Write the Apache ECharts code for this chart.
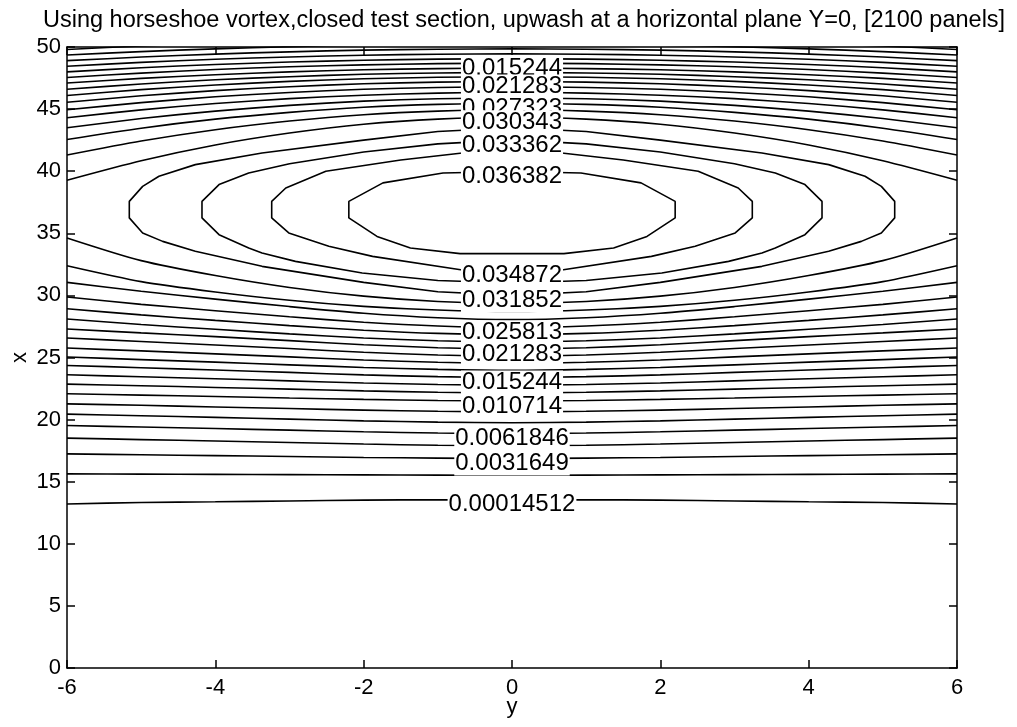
<!DOCTYPE html>
<html><head><meta charset="utf-8">
<script src="https://cdn.jsdelivr.net/npm/echarts@6/dist/echarts.min.js"></script>
<style>html,body{margin:0;padding:0;background:#fff}#c{width:1017px;height:727px}</style>
</head><body><div id="c"></div>
<script>
// spanwise stations |y| (lines are symmetric about y = 0)
const stations = [0, 1, 2, 3, 4, 5, 6];

// x-position of each contour below the peak, at |y| = 0..6  (levels k = 0..20)
const lowerLines = [
  [13.54, 13.54, 13.52, 13.45, 13.38, 13.32, 13.21],
  [15.52, 15.53, 15.55, 15.57, 15.59, 15.61, 15.63],
  [16.87, 16.90, 16.95, 17.03, 17.10, 17.17, 17.24],
  [17.90, 17.94, 18.03, 18.16, 18.28, 18.39, 18.51],
  [18.88, 18.92, 19.02, 19.15, 19.28, 19.40, 19.52],
  [19.75, 19.80, 19.90, 20.04, 20.18, 20.31, 20.44],
  [20.62, 20.67, 20.76, 20.89, 21.02, 21.15, 21.27],
  [21.50, 21.54, 21.63, 21.74, 21.86, 21.97, 22.08],
  [22.15, 22.20, 22.31, 22.45, 22.59, 22.73, 22.86],
  [22.77, 22.83, 22.95, 23.12, 23.29, 23.45, 23.61],
  [23.39, 23.46, 23.60, 23.80, 23.99, 24.18, 24.36],
  [23.96, 24.04, 24.20, 24.41, 24.63, 24.83, 25.04],
  [24.53, 24.62, 24.80, 25.05, 25.29, 25.53, 25.76],
  [25.10, 25.20, 25.42, 25.72, 26.01, 26.29, 26.57],
  [25.68, 25.79, 26.03, 26.36, 26.68, 26.98, 27.29],
  [26.26, 26.35, 26.57, 26.90, 27.27, 27.66, 28.10],
  [26.84, 26.94, 27.20, 27.57, 27.99, 28.43, 28.93],
  [27.42, 27.54, 27.84, 28.28, 28.77, 29.28, 29.87],
  [28.05, 28.20, 28.56, 29.10, 29.70, 30.33, 31.05],
  [28.70, 28.82, 29.12, 29.61, 30.28, 31.11, 32.39],
  [29.35, 29.51, 29.94, 30.64, 31.60, 32.80, 34.63]
];

// x-position of each contour above the peak, at |y| = 0..6  (levels k = 20 down to 5)
const upperLines = [
  [44.34, 44.19, 43.78, 43.07, 42.11, 40.84, 39.27],
  [44.95, 44.84, 44.55, 44.04, 43.34, 42.43, 41.30],
  [45.47, 45.38, 45.15, 44.74, 44.19, 43.46, 42.55],
  [45.90, 45.83, 45.64, 45.30, 44.84, 44.24, 43.50],
  [46.35, 46.29, 46.12, 45.84, 45.45, 44.94, 44.30],
  [46.80, 46.74, 46.60, 46.34, 45.99, 45.52, 44.95],
  [47.22, 47.17, 47.04, 46.80, 46.49, 46.07, 45.55],
  [47.60, 47.56, 47.44, 47.23, 46.94, 46.57, 46.10],
  [47.95, 47.91, 47.80, 47.61, 47.36, 47.02, 46.60],
  [48.30, 48.26, 48.17, 48.00, 47.77, 47.47, 47.10],
  [48.69, 48.66, 48.56, 48.41, 48.19, 47.90, 47.55],
  [49.05, 49.02, 48.93, 48.79, 48.59, 48.33, 48.00],
  [49.45, 49.42, 49.34, 49.20, 49.01, 48.76, 48.45],
  [49.85, 49.82, 49.75, 49.61, 49.43, 49.19, 48.90],
  [50.25, 50.22, 50.15, 50.03, 49.85, 49.63, 49.35],
  [50.70, 50.67, 50.60, 50.48, 50.30, 50.08, 49.80]
];

// closed contours around the peak (left halves, [y, x]); levels k = 24, 23, 22, 21
const ellipseTops = [
  [[0, 39.97], [-0.93, 39.86], [-1.74, 39.06], [-2.20, 37.57]],
  [[0, 41.55], [-0.67, 41.47], [-1.50, 40.90], [-2.51, 39.99], [-3.05, 38.65], [-3.24, 37.57]],
  [[0, 42.52], [-1.00, 42.20], [-2.00, 41.55], [-3.00, 40.60], [-3.55, 39.86], [-3.95, 38.92], [-4.18, 37.57]],
  [[0, 43.50], [-1.00, 43.20], [-2.00, 42.50], [-3.37, 41.47], [-4.27, 40.53], [-4.76, 39.59], [-4.98, 38.78], [-5.16, 37.57]]
];
const ellipseBottoms = [
  [[-2.20, 36.24], [-1.82, 34.75], [-1.37, 33.82], [-0.70, 33.36], [0, 33.36]],
  [[-3.24, 36.24], [-3.01, 35.03], [-2.47, 33.95], [-1.88, 33.14], [-0.67, 32.05], [0, 31.99]],
  [[-4.18, 36.24], [-3.95, 34.89], [-3.55, 33.82], [-3.37, 33.42], [-2.92, 32.74], [-2.02, 31.80], [-1.00, 31.20], [0, 31.00]],
  [[-5.16, 36.24], [-4.98, 35.03], [-4.71, 34.35], [-4.27, 33.55], [-3.37, 32.34], [-2.00, 31.05], [-1.00, 30.30], [0, 30.00]]
];

// inline contour labels
const labelText = ['0.015244', '0.021283', '0.027323', '0.030343', '0.033362', '0.036382',
  '0.034872', '0.031852', '0.025813', '0.021283', '0.015244', '0.010714', '0.0061846', '0.0031649', '0.00014512'];
const labelXpos = [48.69, 47.22, 45.47, 44.34, 42.52, 39.97,
  31.99, 30.00, 27.42, 25.68, 23.39, 21.50, 18.88, 16.87, 13.54];
const labelYpos = [0, 0, 0, 0, 0, 0, 0, 0, 0, 0, 0, 0, 0, 0, 0];

const titleText = 'Using horseshoe vortex,closed test section, upwash at a horizontal plane Y=0, [2100 panels]';
const FONT = '"Liberation Sans", Arial, sans-serif';

function mirrorLine(v) {
  const pts = [];
  for (let i = stations.length - 1; i >= 1; i--) pts.push([-stations[i], v[i]]);
  for (let i = 0; i < stations.length; i++) pts.push([stations[i], v[i]]);
  return pts;
}
function closedCurve(top, bottom) {
  const pts = [];
  top.forEach(p => pts.push(p));
  bottom.forEach(p => pts.push(p));
  for (let i = bottom.length - 2; i >= 0; i--) pts.push([-bottom[i][0], bottom[i][1]]);
  for (let i = top.length - 1; i >= 0; i--) pts.push([-top[i][0], top[i][1]]);
  return pts;
}

const lineStyle = { color: '#000', width: 1.6 };
const series = [];
lowerLines.concat(upperLines).forEach(v => series.push({
  type: 'line', data: mirrorLine(v), showSymbol: false, symbol: 'none', smooth: 0.25,
  lineStyle: lineStyle, clip: true, silent: true, animation: false
}));
ellipseTops.forEach((t, i) => series.push({
  type: 'line', data: closedCurve(t, ellipseBottoms[i]), showSymbol: false, symbol: 'none', smooth: false,
  lineStyle: lineStyle, clip: true, silent: true, animation: false
}));
series.push({
  type: 'scatter', z: 10, silent: true, animation: false,
  symbolSize: 0, itemStyle: { color: '#000', opacity: 1 },
  data: labelText.map((t, i) => [labelYpos[i], labelXpos[i], t]),
  labelLayout: { hideOverlap: false },
  label: {
    show: true, position: [0, 5], align: 'center', verticalAlign: 'middle',
    formatter: p => p.value[2],
    color: '#000', fontSize: 24, fontFamily: FONT,
    textBorderWidth: 0, textShadowBlur: 0,
    backgroundColor: '#fff', padding: [0, 1]
  }
});

const axisLineStyle = { color: '#000', width: 1.5 };
const tickCfg = { show: true, inside: true, length: 8, lineStyle: { color: '#000', width: 1.5 } };
const labelCfg = { color: '#000', fontSize: 22, fontFamily: FONT };

const chart = echarts.init(document.getElementById('c'), null, { renderer: 'canvas' });
chart.setOption({
  backgroundColor: '#fff',
  animation: false,
  title: {
    text: titleText, left: 38, top: 4,
    textStyle: { color: '#000', fontSize: 23.5, fontWeight: 'normal', fontFamily: FONT }
  },
  grid: { left: 67, right: 60, top: 47, bottom: 59, containLabel: false, outerBoundsMode: 'none' },
  xAxis: [
    { type: 'value', min: -6, max: 6, interval: 2, position: 'bottom',
      axisLine: { onZero: false, lineStyle: axisLineStyle }, axisTick: tickCfg,
      axisLabel: Object.assign({ margin: 9 }, labelCfg), splitLine: { show: false },
      name: 'y', nameLocation: 'middle', nameGap: 28, nameMoveOverlap: false,
      nameTextStyle: { color: '#000', fontSize: 22, fontFamily: FONT } },
    { type: 'value', min: -6, max: 6, interval: 2, position: 'top',
      axisLine: { onZero: false, lineStyle: axisLineStyle }, axisTick: tickCfg,
      axisLabel: { show: false }, splitLine: { show: false } }
  ],
  yAxis: [
    { type: 'value', min: 0, max: 50, interval: 5, position: 'left',
      axisLine: { onZero: false, lineStyle: axisLineStyle }, axisTick: tickCfg,
      axisLabel: Object.assign({ margin: 6 }, labelCfg), splitLine: { show: false },
      name: 'x', nameLocation: 'middle', nameGap: 36, nameRotate: 90, nameMoveOverlap: false,
      nameTextStyle: { color: '#000', fontSize: 22, fontFamily: FONT } },
    { type: 'value', min: 0, max: 50, interval: 5, position: 'right',
      axisLine: { onZero: false, lineStyle: axisLineStyle }, axisTick: tickCfg,
      axisLabel: { show: false }, splitLine: { show: false } }
  ],
  series: series
});
</script></body></html>
